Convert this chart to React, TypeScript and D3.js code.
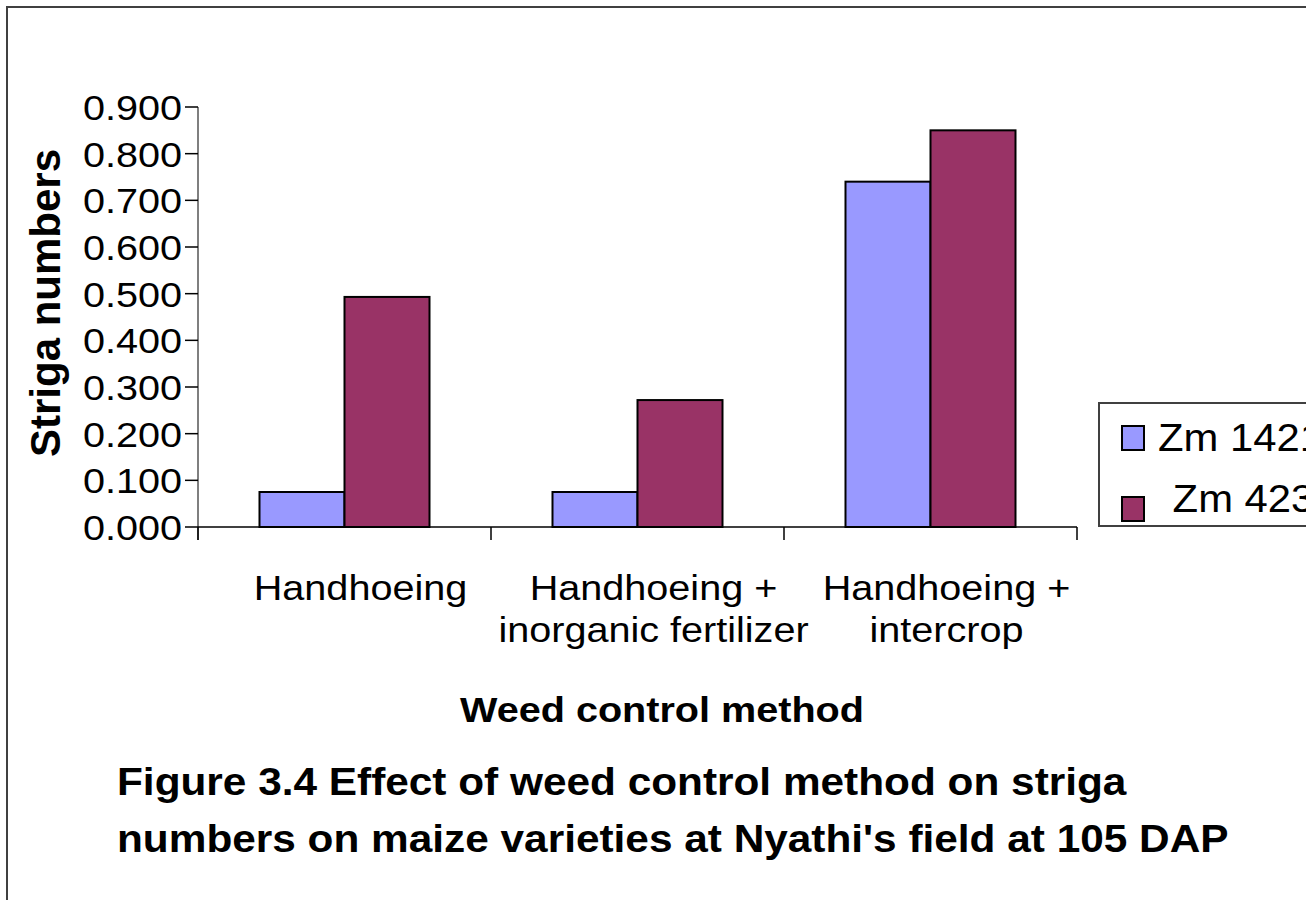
import React from 'react';
import * as d3 from 'd3';

// chart values
const categories: string[][] = [
    ['Handhoeing'],
    ['Handhoeing +', 'inorganic fertilizer'],
    ['Handhoeing +', 'intercrop'],
];
const seriesNames = ['Zm 1421', ' Zm 423'];
const zm1421 = [0.075, 0.075, 0.74];
const zm423 = [0.493, 0.272, 0.85];
const yTicks = [0, 0.1, 0.2, 0.3, 0.4, 0.5, 0.6, 0.7, 0.8, 0.9];
const colors = ['#9999FF', '#993366'];

const W = 1306;
const H = 900;
const font = 'Arial, "Liberation Sans", sans-serif';
// the source picture is a bit wider than tall, text included
const SX = 1.1;

const at = (x: number, y: number) => `translate(${x},${y}) scale(${SX},1)`;

const App: React.FC = () => {
    const left = 198, right = 1077, top = 107, bottom = 527;

    const x = d3.scaleBand<number>()
        .domain(categories.map((_, i) => i))
        .range([left, right])
        .padding(0);

    const xs = d3.scaleBand<number>()
        .domain([0, 1])
        .range([0, x.bandwidth()])
        .paddingInner(0)
        .paddingOuter(0.7235);

    const y = d3.scaleLinear().domain([0, 0.9]).range([bottom, top]);
    const fmt = d3.format('.3f');

    const series = [zm1421, zm423];
    const catEdges = [...categories.map((_, i) => x(i) as number), right];

    return (
        <svg width={W} height={H} style={{ position: 'absolute', left: 0, top: 0 }} fontFamily={font}>
            <rect x={0} y={0} width={W} height={H} fill="#fff" />
            {/* outer frame */}
            <rect x={7} y={7} width={1330} height={930} fill="none" stroke="#404040" strokeWidth={2} />

            {/* bars */}
            {series.map((vals, s) =>
                vals.map((v, i) => (
                    <rect
                        key={`${s}-${i}`}
                        x={(x(i) as number) + (xs(s) as number)}
                        y={y(v)}
                        width={xs.bandwidth()}
                        height={y(0) - y(v)}
                        fill={colors[s]}
                        stroke="#000"
                        strokeWidth={2}
                    />
                ))
            )}

            {/* y axis */}
            <line x1={left} x2={left} y1={top} y2={540} stroke="#555" strokeWidth={1.5} />
            {yTicks.map(t => (
                <g key={t}>
                    <line x1={185} x2={left} y1={y(t)} y2={y(t)} stroke="#000" strokeWidth={1.5} />
                    <text transform={at(182, y(t))} dy="0.36em" textAnchor="end" fontSize={36}>{fmt(t)}</text>
                </g>
            ))}

            {/* x axis */}
            <line x1={left} x2={right} y1={bottom} y2={bottom} stroke="#000" strokeWidth={1.5} />
            {catEdges.map((e, i) => (
                <line key={i} x1={e} x2={e} y1={bottom} y2={540} stroke="#000" strokeWidth={1.5} />
            ))}
            {categories.map((lines, i) =>
                lines.map((l, j) => (
                    <text
                        key={`${i}-${j}`}
                        transform={at((x(i) as number) + x.bandwidth() / 2 + 16, 600 + j * 42)}
                        textAnchor="middle"
                        fontSize={36}
                    >{l}</text>
                ))
            )}

            {/* axis titles */}
            <text transform={at(662, 722)} textAnchor="middle" fontSize={36} fontWeight="bold">Weed control method</text>
            <text transform="translate(60,303) rotate(-90)" textAnchor="middle" fontSize={42} fontWeight="bold">Striga numbers</text>

            {/* legend, cut by the right edge as in the source */}
            <rect x={1099} y={403} width={240} height={123} fill="#fff" stroke="#404040" strokeWidth={2} />
            <rect x={1122} y={426} width={22} height={24} fill={colors[0]} stroke="#000" strokeWidth={2} />
            <text transform={at(1158, 451)} fontSize={38} style={{ whiteSpace: 'pre' }}>{seriesNames[0]}</text>
            <rect x={1122} y={497} width={22} height={24} fill={colors[1]} stroke="#000" strokeWidth={2} />
            <text transform={at(1161, 512)} fontSize={38} style={{ whiteSpace: 'pre' }}>{seriesNames[1]}</text>

            {/* figure caption */}
            <text transform={at(117, 795)} fontSize={38.5} fontWeight="bold">Figure 3.4 Effect of weed control method on striga</text>
            <text transform={at(117, 852)} fontSize={38.5} fontWeight="bold">numbers on maize varieties at Nyathi's field at 105 DAP</text>
        </svg>
    );
};

export default App;
